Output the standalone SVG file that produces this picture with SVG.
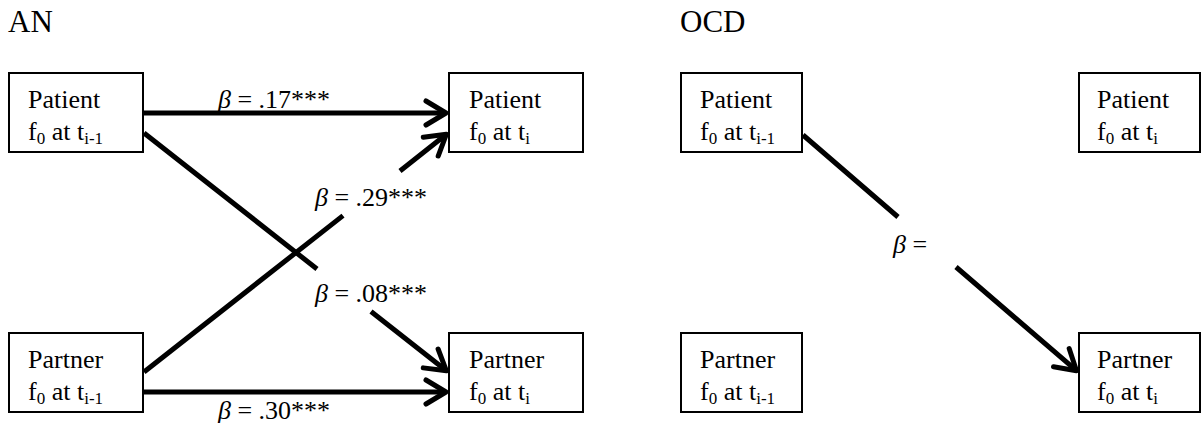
<svg xmlns="http://www.w3.org/2000/svg" width="1202" height="423" viewBox="0 0 1202 423">
<defs>
<style>
text{font-family:'Liberation Serif','DejaVu Serif',serif;fill:#000}
.box{fill:#fff;stroke:#000;stroke-width:2}
.t{font-size:26px}
.title{font-size:31px}
.sub{font-size:17px}
.lbl{font-size:26px}
.beta{font-style:italic}
.edge{fill:none;stroke:#000;stroke-width:5;marker-end:url(#arr)}
</style>
<marker id="arr" markerUnits="userSpaceOnUse" viewBox="-30 -20 40 40" markerWidth="40" markerHeight="40" refX="0" refY="0" orient="auto" overflow="visible">
<path d="M-20,-12 L0,0 L-20,12" fill="none" stroke="#000" stroke-width="5" stroke-linecap="round" stroke-linejoin="round"/>
</marker>
</defs>
<rect width="1202" height="423" fill="#fff"/>
<text class="title" x="8" y="32" font-family="Liberation Serif, serif">AN</text>
<text class="title" x="680" y="32" font-family="Liberation Serif, serif">OCD</text>

<g id="connectors">
<path class="edge" d="M144,113 L446,113"/>
<path class="edge" d="M144,392 L446,392"/>
<path class="edge" d="M144,133 L317,269 M371,311.5 L446.4,370.8"/>
<path class="edge" d="M144,372 L343,215.6 M400,171 L446.4,134.2"/>
<path class="edge" d="M803,135 L898,217 M956,267 L1076.5,370.7"/>
</g>

<g id="labels">
<text class="lbl" x="218" y="108"><tspan class="beta">β</tspan> = .17***</text>
<text class="lbl" x="315" y="206"><tspan class="beta">β</tspan> = .29***</text>
<text class="lbl" x="315" y="302"><tspan class="beta">β</tspan> = .08***</text>
<text class="lbl" x="218" y="419"><tspan class="beta">β</tspan> = .30***</text>
<text class="lbl" x="893" y="253"><tspan class="beta">β</tspan> =</text>
</g>

<g id="an-patient-prev">
<rect class="box" x="9" y="73" width="134" height="79"/>
<text class="t" x="28" y="108">Patient</text>
<text class="t" x="28" y="140">f<tspan class="sub" dy="4">0</tspan><tspan dy="-4"> at t</tspan><tspan class="sub" dy="4">i-1</tspan></text>
</g>
<g id="an-patient-curr">
<rect class="box" x="449" y="73" width="134" height="79"/>
<text class="t" x="469" y="108">Patient</text>
<text class="t" x="469" y="140">f<tspan class="sub" dy="4">0</tspan><tspan dy="-4"> at t</tspan><tspan class="sub" dy="4">i</tspan></text>
</g>
<g id="an-partner-prev">
<rect class="box" x="9" y="333" width="134" height="79"/>
<text class="t" x="28" y="368">Partner</text>
<text class="t" x="28" y="400">f<tspan class="sub" dy="4">0</tspan><tspan dy="-4"> at t</tspan><tspan class="sub" dy="4">i-1</tspan></text>
</g>
<g id="an-partner-curr">
<rect class="box" x="449" y="333" width="134" height="79"/>
<text class="t" x="469" y="368">Partner</text>
<text class="t" x="469" y="400">f<tspan class="sub" dy="4">0</tspan><tspan dy="-4"> at t</tspan><tspan class="sub" dy="4">i</tspan></text>
</g>

<g id="ocd-patient-prev">
<rect class="box" x="681" y="73" width="121" height="79"/>
<text class="t" x="700" y="108">Patient</text>
<text class="t" x="700" y="140">f<tspan class="sub" dy="4">0</tspan><tspan dy="-4"> at t</tspan><tspan class="sub" dy="4">i-1</tspan></text>
</g>
<g id="ocd-patient-curr">
<rect class="box" x="1079" y="73" width="121" height="79"/>
<text class="t" x="1097" y="108">Patient</text>
<text class="t" x="1097" y="140">f<tspan class="sub" dy="4">0</tspan><tspan dy="-4"> at t</tspan><tspan class="sub" dy="4">i</tspan></text>
</g>
<g id="ocd-partner-prev">
<rect class="box" x="681" y="333" width="121" height="79"/>
<text class="t" x="700" y="368">Partner</text>
<text class="t" x="700" y="400">f<tspan class="sub" dy="4">0</tspan><tspan dy="-4"> at t</tspan><tspan class="sub" dy="4">i-1</tspan></text>
</g>
<g id="ocd-partner-curr">
<rect class="box" x="1079" y="333" width="121" height="79"/>
<text class="t" x="1097" y="368">Partner</text>
<text class="t" x="1097" y="400">f<tspan class="sub" dy="4">0</tspan><tspan dy="-4"> at t</tspan><tspan class="sub" dy="4">i</tspan></text>
</g>
</svg>
